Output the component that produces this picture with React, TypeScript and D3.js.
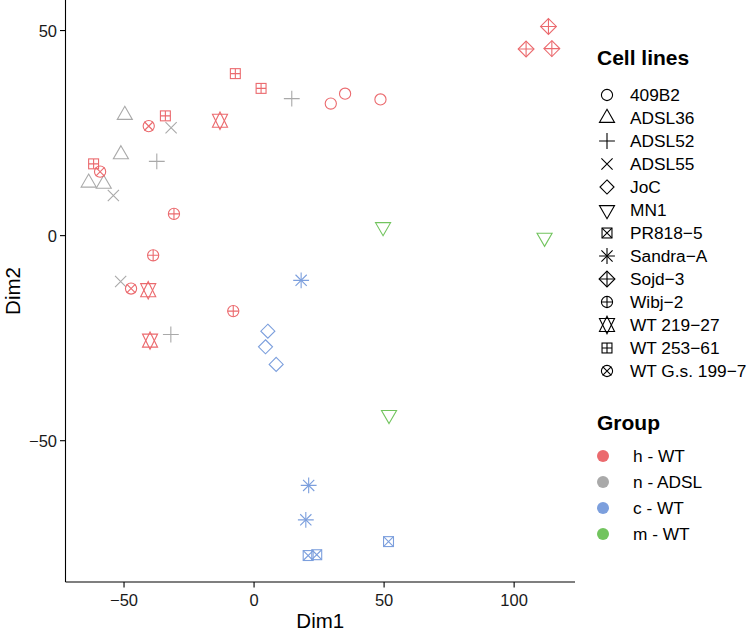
import React from "react";
import * as d3 from "d3";

// ---- data ----
const cellLines = [
  "409B2", "ADSL36", "ADSL52", "ADSL55", "JoC", "MN1", "PR818−5",
  "Sandra−A", "Sojd−3", "Wibj−2", "WT 219−27", "WT 253−61", "WT G.s. 199−7",
];
const cellLineShapes = [1, 2, 3, 4, 5, 6, 7, 8, 9, 10, 11, 12, 13];
const groups = ["h - WT", "n - ADSL", "c - WT", "m - WT"];
const groupColors = ["#EB6A6E", "#A9A9A9", "#7C9FDD", "#72C45E"];
const cellLineGroup = [0, 1, 1, 1, 2, 3, 2, 2, 0, 0, 0, 0, 0];

// each point: cell line index, Dim1, Dim2
const pointLine = [
  0, 0, 0,
  1, 1, 1, 1,
  2, 2, 2,
  3, 3, 3,
  4, 4, 4,
  5, 5, 5,
  6, 6, 6,
  7, 7, 7,
  8, 8, 8,
  9, 9, 9,
  10, 10, 10,
  11, 11, 11, 11,
  12, 12, 12,
];
const dim1 = [
  29.5, 35.0, 48.6,
  -49.7, -51.2, -63.6, -57.8,
  14.5, -37.4, -32.0,
  -31.9, -54.1, -51.3,
  5.3, 4.4, 8.5,
  49.6, 51.9, 111.7,
  20.8, 24.1, 51.7,
  18.1, 21.0, 19.9,
  113.2, 104.6, 114.5,
  -30.8, -38.8, -8.0,
  -13.1, -40.7, -40.0,
  -7.2, 2.7, -34.1, -61.7,
  -40.5, -59.2, -47.3,
];
const dim2 = [
  32.2, 34.6, 33.2,
  29.4, 19.8, 12.9, 12.6,
  33.4, 18.1, -24.1,
  26.3, 9.8, -11.2,
  -23.3, -27.1, -31.4,
  2.1, -43.7, -0.5,
  -78.0, -77.8, -74.6,
  -10.9, -60.9, -69.3,
  51.0, 45.5, 45.6,
  5.3, -4.8, -18.4,
  28.0, -13.3, -25.6,
  39.5, 35.9, 29.2, 17.5,
  26.7, 15.6, -12.9,
];
const xTicks = [-50, 0, 50, 100];
const yTicks = [-50, 0, 50];

// ---- layout ----
const W = 752, H = 630;
const panel = { left: 65.5, right: 575, top: 0, bottom: 582 };
const R = 5.6;
const SW = 1.1;
const FONT = "'Liberation Sans', Arial, Helvetica, sans-serif";

function expand(ext: [number, number], f = 0.05): [number, number] {
  const r = ext[1] - ext[0];
  return [ext[0] - r * f, ext[1] + r * f];
}

function Shape({ x, y, shape, color }: { x: number; y: number; shape: number; color: string }) {
  const p = { fill: "none", stroke: color, strokeWidth: SW };
  const els: React.ReactNode[] = [];
  const sq = 0.886 * R;
  const tri = (up: boolean) => {
    const xc = 1.347 * R, r = 1.555 * R, yc = 0.778 * R;
    const s = up ? 1 : -1;
    return `M${x},${y - s * r}L${x + xc},${y + s * yc}L${x - xc},${y + s * yc}Z`;
  };
  const plus = (h: number) => `M${x - h},${y}L${x + h},${y}M${x},${y - h}L${x},${y + h}`;
  const cross = (h: number) => `M${x - h},${y - h}L${x + h},${y + h}M${x - h},${y + h}L${x + h},${y - h}`;
  switch (shape) {
    case 1:
      els.push(<circle key="c" cx={x} cy={y} r={R} {...p} />);
      break;
    case 2:
      els.push(<path key="t" d={tri(true)} {...p} />);
      break;
    case 3:
      els.push(<path key="p" d={plus(Math.SQRT2 * R)} {...p} />);
      break;
    case 4:
      els.push(<path key="x" d={cross(R)} {...p} />);
      break;
    case 5: {
      const h = 1.253 * R;
      els.push(<path key="d" d={`M${x},${y - h}L${x + h},${y}L${x},${y + h}L${x - h},${y}Z`} {...p} />);
      break;
    }
    case 6:
      els.push(<path key="t" d={tri(false)} {...p} />);
      break;
    case 7:
      els.push(<rect key="s" x={x - sq} y={y - sq} width={2 * sq} height={2 * sq} {...p} />);
      els.push(<path key="x" d={cross(sq)} {...p} />);
      break;
    case 8:
      els.push(<path key="p" d={plus(Math.SQRT2 * R)} {...p} />);
      els.push(<path key="x" d={cross(R)} {...p} />);
      break;
    case 9: {
      const h = Math.SQRT2 * R;
      els.push(<path key="d" d={`M${x},${y - h}L${x + h},${y}L${x},${y + h}L${x - h},${y}Z`} {...p} />);
      els.push(<path key="p" d={plus(h)} {...p} />);
      break;
    }
    case 10:
      els.push(<circle key="c" cx={x} cy={y} r={R} {...p} />);
      els.push(<path key="p" d={plus(R)} {...p} />);
      break;
    case 11: {
      const xc = 1.347 * R, r = 1.555 * R, yc = 1.167 * R;
      els.push(<path key="a" d={`M${x},${y - r}L${x + xc},${y + yc}L${x - xc},${y + yc}Z`} {...p} />);
      els.push(<path key="b" d={`M${x},${y + r}L${x + xc},${y - yc}L${x - xc},${y - yc}Z`} {...p} />);
      break;
    }
    case 12:
      els.push(<rect key="s" x={x - sq} y={y - sq} width={2 * sq} height={2 * sq} {...p} />);
      els.push(<path key="p" d={plus(sq)} {...p} />);
      break;
    case 13:
      els.push(<circle key="c" cx={x} cy={y} r={R} {...p} />);
      els.push(<path key="x" d={cross(R * 0.78)} {...p} />);
      break;
  }
  return <g>{els}</g>;
}

export default function App() {
  const xs = d3.scaleLinear()
    .domain(expand(d3.extent(dim1) as [number, number]))
    .range([panel.left, panel.right]);
  const ys = d3.scaleLinear()
    .domain(expand(d3.extent(dim2) as [number, number]))
    .range([panel.bottom, panel.top]);

  const tickFont = 16.5;
  const legFont = 17.3;
  const titleFont = 20.5;
  const legTitleFont = 21;
  const textCol = "#1a1a1a";

  const legX = 597;
  const legSym = 607;
  const legText = 630;
  const shapeTitleY = 57;
  const shapeY0 = 95;
  const shapeStep = 23;
  const groupTitleY = 422;
  const groupY0 = 456;
  const groupStep = 26;

  return (
    <svg width={W} height={H} style={{ position: "absolute", left: 0, top: 0, background: "#fff" }}
      fontFamily={FONT}>
      <rect x={0} y={0} width={W} height={H} fill="#fff" />
      {/* points */}
      {pointLine.map((li, i) => (
        <Shape key={i} x={xs(dim1[i])} y={ys(dim2[i])} shape={cellLineShapes[li]}
          color={groupColors[cellLineGroup[li]]} />
      ))}
      {/* axes */}
      <line x1={panel.left} x2={panel.right} y1={panel.bottom} y2={panel.bottom} stroke="#000" strokeWidth={1.1} />
      <line x1={panel.left} x2={panel.left} y1={panel.top} y2={panel.bottom} stroke="#000" strokeWidth={1.1} />
      {xTicks.map((t) => (
        <g key={"x" + t}>
          <line x1={xs(t)} x2={xs(t)} y1={panel.bottom} y2={panel.bottom + 5.5} stroke="#000" strokeWidth={1.1} />
          <text x={xs(t)} y={600} textAnchor="middle" dominantBaseline="central" fontSize={tickFont} fill={textCol}>
            {t < 0 ? "−" + Math.abs(t) : String(t)}
          </text>
        </g>
      ))}
      {yTicks.map((t) => (
        <g key={"y" + t}>
          <line x1={panel.left - 5.5} x2={panel.left} y1={ys(t)} y2={ys(t)} stroke="#000" strokeWidth={1.1} />
          <text x={57} y={ys(t)} textAnchor="end" dominantBaseline="central" fontSize={tickFont} fill={textCol}>
            {t < 0 ? "−" + Math.abs(t) : String(t)}
          </text>
        </g>
      ))}
      <text x={(panel.left + panel.right) / 2} y={620} textAnchor="middle" dominantBaseline="central"
        fontSize={titleFont} fill="#000">Dim1</text>
      <text transform={`translate(12,${(panel.top + panel.bottom) / 2}) rotate(-90)`} textAnchor="middle"
        dominantBaseline="central" fontSize={titleFont} fill="#000">Dim2</text>

      {/* legend: cell lines */}
      <text x={legX} y={shapeTitleY} dominantBaseline="central" fontSize={legTitleFont} fontWeight="bold" fill="#000">
        Cell lines
      </text>
      {cellLines.map((name, i) => (
        <g key={name}>
          <Shape x={legSym} y={shapeY0 + i * shapeStep} shape={cellLineShapes[i]} color="#000" />
          <text x={legText} y={shapeY0 + i * shapeStep} dominantBaseline="central" fontSize={legFont} fill="#000">
            {name}
          </text>
        </g>
      ))}
      {/* legend: group */}
      <text x={legX} y={groupTitleY} dominantBaseline="central" fontSize={legTitleFont} fontWeight="bold" fill="#000">
        Group
      </text>
      {groups.map((g, i) => (
        <g key={g}>
          <circle cx={603} cy={groupY0 + i * groupStep} r={6} fill={groupColors[i]} />
          <text x={legText + 3} y={groupY0 + i * groupStep} dominantBaseline="central" fontSize={legFont} fill="#000">
            {g}
          </text>
        </g>
      ))}
    </svg>
  );
}
